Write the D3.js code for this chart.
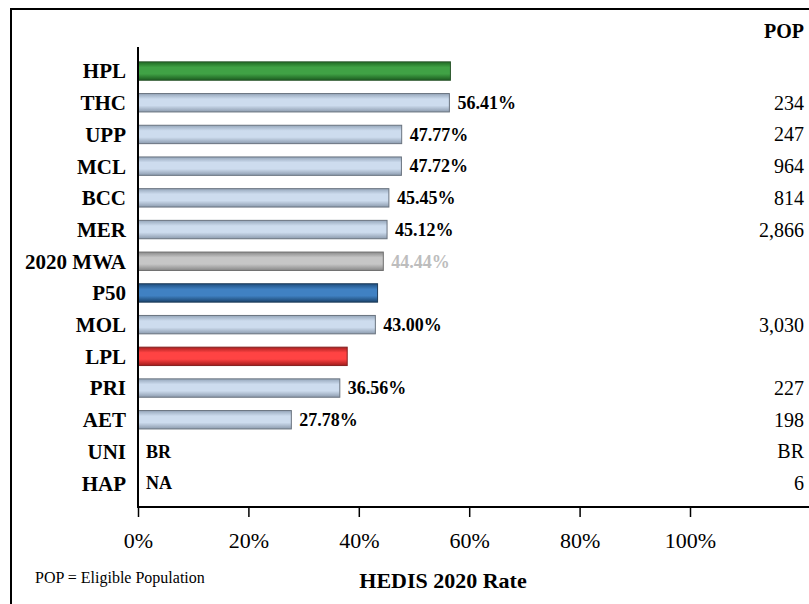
<!DOCTYPE html>
<html>
<head>
<meta charset="utf-8">
<script src="https://cdn.jsdelivr.net/npm/d3@7"></script>
<style>
  html, body { margin: 0; padding: 0; background: #fff; }
  svg { display: block; font-family: "Liberation Serif", "Times New Roman", serif; }
</style>
</head>
<body>
<div id="chart"></div>
<script>
// data
const categories = ["HPL","THC","UPP","MCL","BCC","MER","2020 MWA","P50","MOL","LPL","PRI","AET","UNI","HAP"];
const rates      = [56.6, 56.41, 47.77, 47.72, 45.45, 45.12, 44.44, 43.4, 43.00, 37.9, 36.56, 27.78, null, null];
const kinds      = ["hpl","plan","plan","plan","plan","plan","mwa","p50","plan","lpl","plan","plan","plan","plan"];
const noteText   = ["","","","","","","","","","","","","BR","NA"];
const pops       = ["","234","247","964","814","2,866","","","3,030","","227","198","BR","6"];
const tickValues = [0, 20, 40, 60, 80, 100];

const W = 809, H = 604;

// gradients per bar type: [edge, middle, edge, stroke]
const palette = {
  plan: ["#95a6ba", "#cddcee", "#8c9bae", "#69737f"],
  hpl:  ["#1f6a23", "#40a245", "#1c5c1f", "#2a552b"],
  mwa:  ["#8a8a8a", "#c6c6c6", "#888888", "#6e6e6e"],
  p50:  ["#1e4e7f", "#4081c3", "#19436d", "#1e3b58"],
  lpl:  ["#a61f1f", "#ff4343", "#a21b1b", "#852020"]
};

const svg = d3.select("#chart").append("svg")
  .attr("width", W)
  .attr("height", H);

const defs = svg.append("defs");
Object.entries(palette).forEach(([k, c]) => {
  const gr = defs.append("linearGradient")
    .attr("id", "grad-" + k)
    .attr("x1", 0).attr("y1", 0).attr("x2", 0).attr("y2", 1);
  gr.append("stop").attr("offset", "0%").attr("stop-color", c[0]);
  gr.append("stop").attr("offset", "30%").attr("stop-color", c[1]);
  gr.append("stop").attr("offset", "65%").attr("stop-color", c[1]);
  gr.append("stop").attr("offset", "100%").attr("stop-color", c[2]);
});

// frame (only top and left visible)
svg.append("rect")
  .attr("x", 11).attr("y", 9)
  .attr("width", W + 20).attr("height", H + 20)
  .attr("fill", "none")
  .attr("stroke", "#000")
  .attr("stroke-width", 2);

const x = d3.scaleLinear().domain([0, 100]).range([138, 690]);
const y = d3.scaleBand()
  .domain(categories)
  .range([55.2, 499])
  .paddingInner(0.42)
  .paddingOuter(0.21);

const data = categories.map((c, i) => ({
  cat: c, rate: rates[i], kind: kinds[i], note: noteText[i], pop: pops[i]
}));

// bars
svg.selectAll(".bar")
  .data(data.filter(d => d.rate != null))
  .enter().append("rect")
  .attr("class", "bar")
  .attr("x", x(0))
  .attr("y", d => y(d.cat))
  .attr("width", d => x(d.rate) - x(0))
  .attr("height", y.bandwidth())
  .attr("fill", d => `url(#grad-${d.kind})`)
  .attr("stroke", d => palette[d.kind][3])
  .attr("stroke-width", 1);

// y axis line
svg.append("line")
  .attr("x1", 138).attr("x2", 138)
  .attr("y1", 47).attr("y2", 507)
  .attr("stroke", "#000").attr("stroke-width", 2);

// category labels
svg.selectAll(".cat")
  .data(data)
  .enter().append("text")
  .attr("class", "cat")
  .attr("x", 126)
  .attr("y", d => y(d.cat) + y.bandwidth() / 2)
  .attr("dy", "0.35em")
  .attr("text-anchor", "end")
  .style("font-size", "21px")
  .style("font-weight", "700")
  .text(d => d.cat);

// value labels
svg.selectAll(".val")
  .data(data.filter(d => d.kind === "plan" || d.kind === "mwa"))
  .enter().append("text")
  .attr("class", "val")
  .attr("x", d => d.rate != null ? x(d.rate) + 8 : x(0) + 8)
  .attr("y", d => y(d.cat) + y.bandwidth() / 2)
  .attr("dy", "0.35em")
  .style("font-size", "18px")
  .style("font-weight", "700")
  .style("fill", d => d.kind === "mwa" ? "#bdbdbd" : "#000")
  .text(d => d.rate != null ? d3.format(".2f")(d.rate) + "%" : d.note);

// POP column
svg.append("text")
  .attr("x", 804).attr("y", 31)
  .attr("dy", "0.35em")
  .attr("text-anchor", "end")
  .style("font-size", "20px")
  .style("font-weight", "700")
  .text("POP");

svg.selectAll(".pop")
  .data(data.filter(d => d.pop !== ""))
  .enter().append("text")
  .attr("class", "pop")
  .attr("x", 804)
  .attr("y", d => y(d.cat) + y.bandwidth() / 2)
  .attr("dy", "0.35em")
  .attr("text-anchor", "end")
  .style("font-size", "20px")
  .text(d => d.pop);

// x axis
const axisY = 507;
const xAxis = svg.append("g")
  .attr("transform", `translate(0,${axisY})`)
  .call(d3.axisBottom(x).tickValues(tickValues).tickSize(10).tickSizeOuter(0).tickFormat(d => d + "%"));
xAxis.select(".domain").remove();
xAxis.selectAll(".tick line").attr("stroke", "#000").attr("stroke-width", 1.5);
xAxis.selectAll(".tick text")
  .attr("y", 33)
  .attr("dy", "0.35em")
  .style("font-family", "'Liberation Serif', 'Times New Roman', serif")
  .style("font-size", "22px")
  .style("fill", "#000");
svg.append("line")
  .attr("x1", 137).attr("x2", W)
  .attr("y1", axisY).attr("y2", axisY)
  .attr("stroke", "#000").attr("stroke-width", 2);

// footnote and axis title
svg.append("text")
  .attr("x", 35).attr("y", 577)
  .attr("dy", "0.35em")
  .style("font-size", "16px")
  .text("POP = Eligible Population");

svg.append("text")
  .attr("x", 443).attr("y", 580)
  .attr("dy", "0.35em")
  .attr("text-anchor", "middle")
  .style("font-size", "22px")
  .style("font-weight", "700")
  .text("HEDIS 2020 Rate");
</script>
</body>
</html>
